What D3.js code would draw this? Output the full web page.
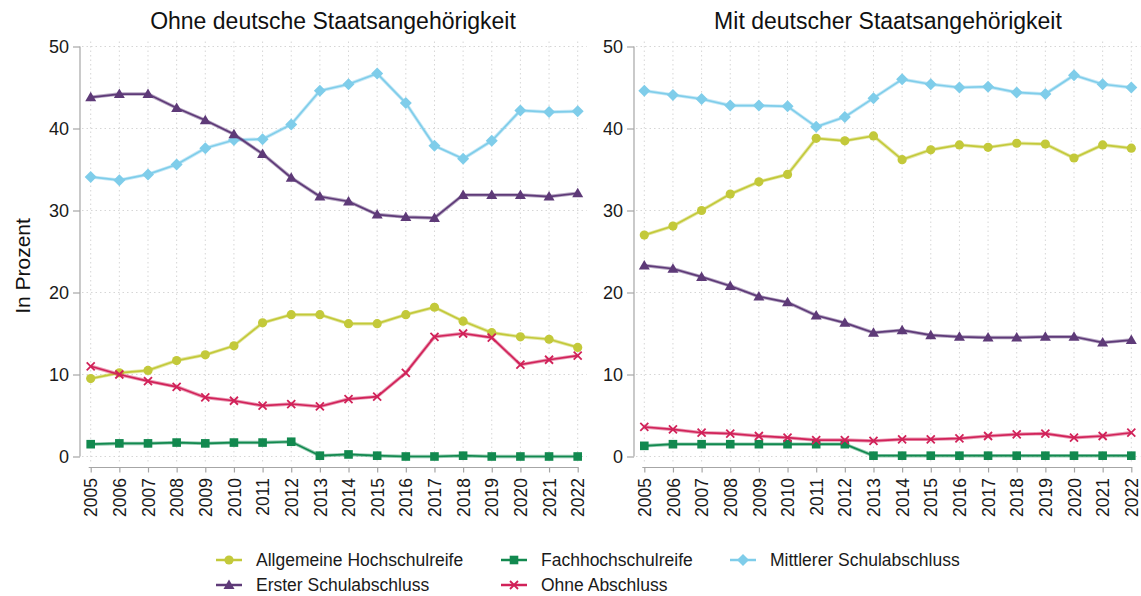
<!DOCTYPE html>
<html>
<head>
<meta charset="utf-8">
<script src="https://cdn.jsdelivr.net/npm/d3@7"></script>
<style>
  body { margin: 0; background: #fff; }
  svg { font-family: "Liberation Sans", Arial, sans-serif; }
  .grid line { stroke: #d6d6d6; stroke-dasharray: 1.5 3; }
  .axis path, .axis line { stroke: #a6a6a6; stroke-width: 1.2; }
  .axis text { fill: #1a1a1a; }
</style>
</head>
<body>
<script>
const years = d3.range(2005, 2023);
const yTicks = [0, 10, 20, 30, 40, 50];
const seriesNames = ["Allgemeine Hochschulreife", "Fachhochschulreife", "Mittlerer Schulabschluss",
                     "Erster Schulabschluss", "Ohne Abschluss"];
const colors = ["#c3c93a", "#12894f", "#7fcdea", "#5e3a78", "#d12259"];
const shapes = ["circle", "square", "diamond", "triangle", "cross"];
const titles = ["Ohne deutsche Staatsangehörigkeit", "Mit deutscher Staatsangehörigkeit"];

// Ohne deutsche Staatsangehörigkeit
const ohneAllg = [9.5, 10.2, 10.5, 11.7, 12.4, 13.5, 16.3, 17.3, 17.3, 16.2, 16.2, 17.3, 18.2, 16.5, 15.1, 14.6, 14.3, 13.3];
const ohneFach = [1.5, 1.6, 1.6, 1.7, 1.6, 1.7, 1.7, 1.8, 0.1, 0.25, 0.1, 0.0, 0.0, 0.1, 0.0, 0.0, 0.0, 0.0];
const ohneMittl = [34.1, 33.7, 34.4, 35.6, 37.6, 38.6, 38.7, 40.5, 44.6, 45.4, 46.7, 43.1, 37.9, 36.3, 38.5, 42.2, 42.0, 42.1];
const ohneErst = [43.8, 44.2, 44.2, 42.5, 41.0, 39.3, 36.9, 34.0, 31.7, 31.1, 29.5, 29.2, 29.1, 31.9, 31.9, 31.9, 31.7, 32.1];
const ohneOhne = [11.0, 10.0, 9.2, 8.5, 7.2, 6.8, 6.2, 6.4, 6.1, 7.0, 7.3, 10.2, 14.6, 15.0, 14.5, 11.2, 11.8, 12.3];

// Mit deutscher Staatsangehörigkeit
const mitAllg = [27.0, 28.1, 30.0, 32.0, 33.5, 34.4, 38.8, 38.5, 39.1, 36.2, 37.4, 38.0, 37.7, 38.2, 38.1, 36.4, 38.0, 37.6];
const mitFach = [1.3, 1.5, 1.5, 1.5, 1.5, 1.5, 1.5, 1.5, 0.1, 0.1, 0.1, 0.1, 0.1, 0.1, 0.1, 0.1, 0.1, 0.1];
const mitMittl = [44.6, 44.1, 43.6, 42.8, 42.8, 42.7, 40.2, 41.4, 43.7, 46.0, 45.4, 45.0, 45.1, 44.4, 44.2, 46.5, 45.4, 45.0];
const mitErst = [23.3, 22.9, 21.9, 20.8, 19.5, 18.8, 17.2, 16.3, 15.1, 15.4, 14.8, 14.6, 14.5, 14.5, 14.6, 14.6, 13.9, 14.2];
const mitOhne = [3.6, 3.3, 2.9, 2.8, 2.5, 2.3, 2.0, 2.0, 1.9, 2.1, 2.1, 2.2, 2.5, 2.7, 2.8, 2.3, 2.5, 2.9];

const panels = [
    {title: titles[0], data: [ohneAllg, ohneFach, ohneMittl, ohneErst, ohneOhne], axisX: 80, x0: 90.7, x1: 577.7, titleX: 333},
    {title: titles[1], data: [mitAllg, mitFach, mitMittl, mitErst, mitOhne], axisX: 634, x0: 644.3, x1: 1131.3, titleX: 888}
];

const width = 1141, height = 596;
const yTop = 46.5, yZero = 456.5, xAxisY = 467.5;

let svg = d3.select("body").append("svg")
    .attr("width", width)
    .attr("height", height);

let scaleY = d3.scaleLinear().domain([0, 50]).range([yZero, yTop]);

function drawMarker(g, shape, color, x, y) {
    if (shape === "circle") {
        g.append("circle").attr("cx", x).attr("cy", y).attr("r", 4.6).attr("fill", color);
    } else if (shape === "square") {
        g.append("rect").attr("x", x - 4.3).attr("y", y - 4.3).attr("width", 8.6).attr("height", 8.6).attr("fill", color);
    } else if (shape === "diamond") {
        g.append("path").attr("d", `M${x},${y - 6}L${x + 6},${y}L${x},${y + 6}L${x - 6},${y}Z`).attr("fill", color);
    } else if (shape === "triangle") {
        g.append("path").attr("d", `M${x},${y - 5.5}L${x + 5.5},${y + 4}L${x - 5.5},${y + 4}Z`).attr("fill", color);
    } else {
        g.append("path").attr("d", `M${x - 4},${y - 4}L${x + 4},${y + 4}M${x - 4},${y + 4}L${x + 4},${y - 4}`)
            .attr("stroke", color).attr("stroke-width", 1.8).attr("fill", "none");
    }
}

panels.forEach(function (p) {
    let scaleX = d3.scalePoint().domain(years).range([p.x0, p.x1]);

    // grid
    let grid = svg.append("g").attr("class", "grid");
    grid.selectAll(".gy").data(yTicks).enter().append("line")
        .attr("x1", p.axisX + 2).attr("x2", p.x1 + 9)
        .attr("y1", d => scaleY(d)).attr("y2", d => scaleY(d));
    grid.selectAll(".gx").data(years).enter().append("line")
        .attr("x1", d => scaleX(d)).attr("x2", d => scaleX(d))
        .attr("y1", yTop - 5).attr("y2", yZero + 6);

    // y axis
    let axisY = d3.axisLeft(scaleY).tickValues(yTicks).tickSize(7).tickPadding(4);
    svg.append("g").attr("class", "axis")
        .attr("transform", `translate(${p.axisX},0)`)
        .call(axisY)
        .call(g => g.select(".domain").attr("d", `M0,${yTop}V${yZero}`))
        .selectAll("text").style("font-size", "18px");

    // x axis
    let axisX = d3.axisBottom(scaleX).tickSize(5);
    svg.append("g").attr("class", "axis")
        .attr("transform", `translate(0,${xAxisY})`)
        .call(axisX)
        .call(g => g.select(".domain").attr("d", `M${p.x0 - 2},0H${p.x1 + 1}`))
        .selectAll("text")
        .style("font-size", "17.5px")
        .style("text-anchor", "end")
        .attr("x", 0).attr("y", 0)
        .attr("transform", "rotate(-90)")
        .attr("dy", "0.35em")
        .attr("dx", "-0.6em");

    // title
    svg.append("text")
        .attr("x", p.titleX).attr("y", 28.5)
        .attr("text-anchor", "middle")
        .style("font-size", "23px")
        .attr("fill", "#111")
        .text(p.title);

    // lines
    let line = d3.line().x((d, i) => scaleX(years[i])).y(d => scaleY(d));
    p.data.forEach(function (vals, k) {
        svg.append("path").datum(vals)
            .attr("d", line)
            .attr("fill", "none")
            .attr("stroke", colors[k])
            .attr("stroke-opacity", 0.45)
            .attr("stroke-width", 3.5);
        svg.append("path").datum(vals)
            .attr("d", line)
            .attr("fill", "none")
            .attr("stroke", colors[k])
            .attr("stroke-width", 1.7);
        let mg = svg.append("g");
        vals.forEach((v, i) => drawMarker(mg, shapes[k], colors[k], scaleX(years[i]), scaleY(v)));
    });
});

// y label
svg.append("text")
    .attr("transform", "translate(30,266) rotate(-90)")
    .attr("text-anchor", "middle")
    .style("font-size", "21px")
    .attr("fill", "#111")
    .text("In Prozent");

// legend
const legendPos = [[229, 560], [514, 560], [743, 560], [229, 585], [514, 585]];
let legend = svg.append("g");
seriesNames.forEach(function (name, k) {
    let [lx, ly] = legendPos[k];
    legend.append("line")
        .attr("x1", lx - 13).attr("x2", lx + 13)
        .attr("y1", ly).attr("y2", ly)
        .attr("stroke", colors[k]).attr("stroke-width", 2.5);
    drawMarker(legend, shapes[k], colors[k], lx, ly);
    legend.append("text")
        .attr("x", lx + 27).attr("y", ly)
        .attr("dy", "0.35em")
        .style("font-size", "17.5px")
        .attr("fill", "#1a1a1a")
        .text(name);
});
</script>
</body>
</html>
